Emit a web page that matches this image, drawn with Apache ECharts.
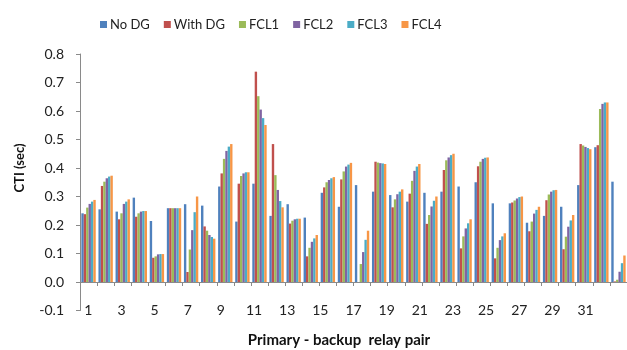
<!DOCTYPE html>
<html>
<head>
<meta charset="utf-8">
<script src="https://cdn.jsdelivr.net/npm/echarts@6/dist/echarts.min.js"></script>
<style>
html,body{margin:0;padding:0;background:#fff;}
#chart{width:627px;height:350px;}
</style>
</head>
<body>
<div id="chart"></div>
<script>
const categories = ['1','2','3','4','5','6','7','8','9','10','11','12','13','14','15','16','17','18','19','20','21','22','23','24','25','26','27','28','29','30','31','32'];
// tick labels as printed under the axis (odd pair numbers)
const tickLabels = ['1','','3','','5','','7','','9','','11','','13','','15','','17','','19','','21','','23','','25','','27','','29','','31','',''];
const seriesNames = ['No DG','With DG','FCL1','FCL2','FCL3','FCL4'];
const noDG   = [0.241,0.255,0.247,0.296,0.214,0.259,0.273,0.268,0.335,0.212,0.345,0.232,0.273,0.226,0.313,0.264,0.340,0.317,0.305,0.282,0.313,0.317,0.335,0.350,0.276,0.276,0.208,0.232,0.264,0.340,0.473,0.352];
const withDG = [0.238,0.337,0.220,0.229,0.085,0.259,0.035,0.195,0.381,0.345,0.738,0.484,0.205,0.090,0.332,0.360,0.000,0.422,0.262,0.310,0.204,0.393,0.118,0.406,0.083,0.279,0.178,0.287,0.115,0.484,0.480,0.002];
const fcl1   = [0.261,0.352,0.241,0.241,0.090,0.259,0.114,0.180,0.432,0.372,0.652,0.375,0.215,0.120,0.350,0.388,0.063,0.419,0.290,0.355,0.235,0.427,0.160,0.422,0.120,0.286,0.212,0.307,0.159,0.479,0.607,0.008];
const fcl2   = [0.274,0.364,0.274,0.247,0.097,0.259,0.182,0.165,0.460,0.381,0.605,0.323,0.220,0.141,0.358,0.405,0.105,0.417,0.308,0.390,0.265,0.437,0.188,0.432,0.147,0.293,0.240,0.317,0.194,0.474,0.625,0.036];
const fcl3   = [0.282,0.370,0.282,0.249,0.098,0.259,0.245,0.158,0.475,0.385,0.575,0.284,0.222,0.153,0.364,0.412,0.148,0.416,0.317,0.405,0.285,0.445,0.206,0.436,0.160,0.298,0.253,0.322,0.216,0.470,0.630,0.066];
const fcl4   = [0.288,0.373,0.290,0.249,0.098,0.259,0.300,0.152,0.484,0.385,0.551,0.262,0.222,0.165,0.368,0.418,0.180,0.414,0.325,0.414,0.300,0.450,0.220,0.437,0.171,0.300,0.264,0.323,0.235,0.466,0.630,0.093];
const yTicks = [-0.1,0.0,0.1,0.2,0.3,0.4,0.5,0.6,0.7,0.8];

const colors = ['#4F81BD','#C0504D','#9BBB59','#8064A2','#4BACC6','#F79646'];
const values = [noDG, withDG, fcl1, fcl2, fcl3, fcl4];
const FONT = 'Lato, "Liberation Sans", sans-serif';

const chart = echarts.init(document.getElementById('chart'), null, {renderer:'canvas'});
chart.setOption({
  animation: false,
  color: colors,
  legend: {
    data: seriesNames,
    left: 95, top: 13,
    itemWidth: 7, itemHeight: 7, itemGap: 14,
    icon: 'rect',
    textStyle: {fontFamily: FONT, fontSize: 13, color: '#222', padding:[0,0,0,-2]}
  },
  grid: {left: 80, right: 0, top: 54, bottom: 39.5, containLabel: false, outerBoundsMode: 'none'},
  xAxis: [{
    type: 'category',
    data: categories,
    axisLine: {onZero: true, lineStyle: {color: '#8a8a8a', width: 1}},
    axisTick: {show: true, interval: 0, length: 4, lineStyle: {color: '#8a8a8a'}},
    axisLabel: {show: false}
  }, {
    type: 'category',
    data: tickLabels,
    position: 'bottom',
    axisLine: {show: false, onZero: false},
    axisTick: {show: false},
    axisLabel: {interval: 0, margin: 0, verticalAlign: 'middle', fontFamily: FONT, fontSize: 14, color: '#222'}
  }],
  yAxis: {
    type: 'value',
    min: -0.1, max: 0.8, interval: 0.1,
    axisLine: {show: true, lineStyle: {color: '#8a8a8a'}},
    axisTick: {show: true, length: 4, lineStyle: {color: '#8a8a8a'}},
    splitLine: {show: false},
    axisLabel: {margin: 16, fontFamily: FONT, fontSize: 14, color: '#222',
      formatter: v => (Math.round(v*10)/10).toFixed(1)}
  },
  graphic: [{
    type: 'text', x: 339, y: 340,
    style: {text: 'Primary - backup  relay pair', fontFamily: FONT, fontSize: 15, fontWeight: 'bold', fill: '#111', align: 'center', verticalAlign: 'middle'}
  }, {
    type: 'text', x: 20, y: 168, rotation: Math.PI/2,
    style: {text: 'CTI (sec)', fontFamily: FONT, fontSize: 13, fontWeight: 'bold', fill: '#111', align: 'center', verticalAlign: 'middle'}
  }],
  series: seriesNames.map((n, i) => ({
    name: n,
    type: 'bar',
    xAxisIndex: 0,
    data: values[i],
    barGap: '0%',
    barCategoryGap: '16%'
  }))
});
</script>
</body>
</html>
